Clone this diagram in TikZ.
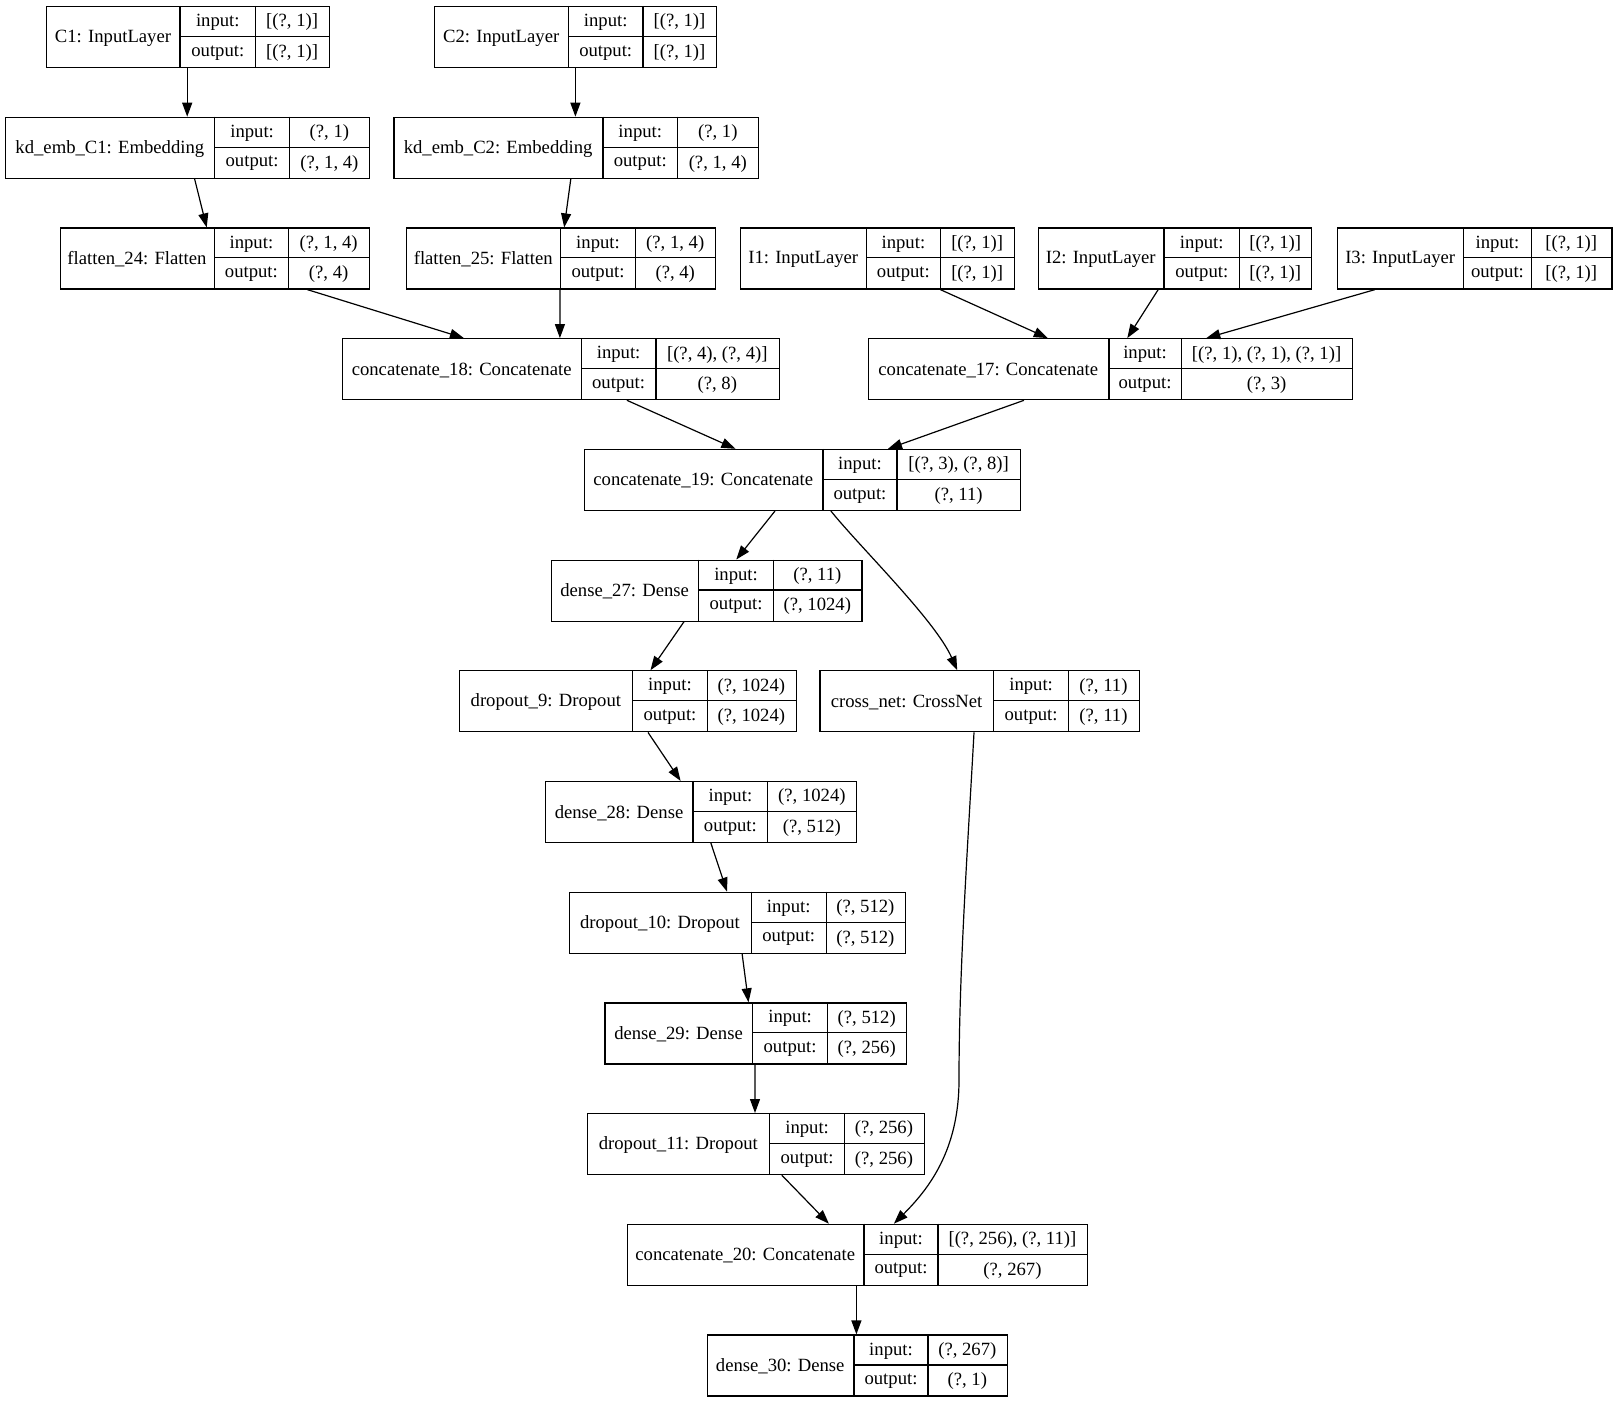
\documentclass[tikz,border=0pt]{standalone}
\usepackage{fontspec}
\setmainfont{Liberation Serif}
\usepackage{tikz}
\usetikzlibrary{arrows.meta, calc}

% one keras layer: id, left, top, col1, col2, right, name, input, output
\newcommand{\layer}[9]{%
    \node[box, minimum width={(#6-#2)*0.75pt}, anchor=north west] (#1) at (#2,#3) {};
    \draw[cellline] (#4,#3) -- (#4,#3+61);
    \draw[cellline] (#5,#3) -- (#5,#3+61);
    \draw[cellline] (#4,#3+30.5) -- (#6,#3+30.5);
    \node[txt] (#1-n) at ({(#2+#4)/2},#3+32) {#7};
    \node[txt] (#1-ki) at ({(#4+#5)/2},#3+16.5) {input:};
    \node[txt] (#1-ko) at ({(#4+#5)/2},#3+47) {output:};
    \node[txt] (#1-vi) at ({(#5+#6)/2},#3+16.5) {#8};
    \node[txt] (#1-vo) at ({(#5+#6)/2},#3+47) {#9};
}

\begin{document}
\begin{tikzpicture}[
    x=0.75pt, y=-0.75pt,
    box/.style={rectangle, draw=black, fill=white, line width=0.9pt, minimum height=45.75pt, inner sep=0pt},
    cellline/.style={draw=black, line width=0.9pt},
    txt/.style={font=\fontsize{14}{16}\selectfont, inner sep=0pt},
    rel/.style={-{Triangle[length=10.5pt, width=7.5pt]}, line width=0.9pt, draw=black},
]
    \useasboundingbox[fill=white] (0,0) rectangle (1617,1401);

    % categorical inputs
    \layer{c1}{46}{6}{180}{255.6}{328.7}{C1: InputLayer}{[(?, 1)]}{[(?, 1)]}
    \layer{c2}{434}{6}{568.4}{643}{716}{C2: InputLayer}{[(?, 1)]}{[(?, 1)]}
    \layer{emb1}{5.1}{116.7}{214.6}{289.6}{369.2}{kd\_emb\_C1: Embedding}{(?, 1)}{(?, 1, 4)}
    \layer{emb2}{393.4}{116.7}{602.9}{677.6}{758}{kd\_emb\_C2: Embedding}{(?, 1)}{(?, 1, 4)}
    \layer{fl24}{59.6}{227.4}{214.2}{288.6}{368.7}{flatten\_24: Flatten}{(?, 1, 4)}{(?, 4)}
    \layer{fl25}{406}{227.4}{560.5}{635.5}{715}{flatten\_25: Flatten}{(?, 1, 4)}{(?, 4)}

    % numeric inputs
    \layer{i1}{740}{227.4}{866.5}{940.3}{1014}{I1: InputLayer}{[(?, 1)]}{[(?, 1)]}
    \layer{i2}{1037.5}{227.4}{1164}{1239.5}{1311}{I2: InputLayer}{[(?, 1)]}{[(?, 1)]}
    \layer{i3}{1336.7}{227.4}{1463.7}{1531.2}{1611.3}{I3: InputLayer}{[(?, 1)]}{[(?, 1)]}

    % merge
    \layer{cat18}{342}{338.1}{581.3}{655.9}{778.7}{concatenate\_18: Concatenate}{[(?, 4), (?, 4)]}{(?, 8)}
    \layer{cat17}{867.6}{338.1}{1109}{1181.1}{1352.1}{concatenate\_17: Concatenate}{[(?, 1), (?, 1), (?, 1)]}{(?, 3)}
    \layer{cat19}{583.6}{448.8}{822.9}{897}{1020.2}{concatenate\_19: Concatenate}{[(?, 3), (?, 8)]}{(?, 11)}

    % deep part and cross part
    \layer{d27}{550.5}{559.5}{698.8}{773.3}{861.3}{dense\_27: Dense}{(?, 11)}{(?, 1024)}
    \layer{dr9}{459}{670.2}{632.7}{707.2}{795.6}{dropout\_9: Dropout}{(?, 1024)}{(?, 1024)}
    \layer{xnet}{819.3}{670.2}{993.8}{1068.4}{1138.5}{cross\_net: CrossNet}{(?, 11)}{(?, 11)}
    \layer{d28}{545.1}{780.9}{693}{767.8}{856}{dense\_28: Dense}{(?, 1024)}{(?, 512)}
    \layer{dr10}{568.6}{891.6}{751.3}{826.1}{904.7}{dropout\_10: Dropout}{(?, 512)}{(?, 512)}
    \layer{d29}{604.4}{1002.3}{752.7}{827.5}{906}{dense\_29: Dense}{(?, 512)}{(?, 256)}
    \layer{dr11}{587}{1113}{769.7}{844.5}{923.5}{dropout\_11: Dropout}{(?, 256)}{(?, 256)}

    % output
    \layer{cat20}{626.5}{1223.7}{864}{938}{1086.9}{concatenate\_20: Concatenate}{[(?, 256), (?, 11)]}{(?, 267)}
    \layer{d30}{706.5}{1334.4}{854}{928}{1006.6}{dense\_30: Dense}{(?, 267)}{(?, 1)}

    \coordinate (xbend) at (959,1080);

    % Edges
    \draw[rel] ($(c1.south west)+(141.2,0)$) -- ($(emb1.north west)+(182.1,0)$);
    \draw[rel] ($(c2.south west)+(141.4,0)$) -- ($(emb2.north west)+(182,0)$);
    \draw[rel] ($(emb1.south west)+(189.5,0)$) -- ($(fl24.north west)+(147.1,0)$);
    \draw[rel] ($(emb2.south west)+(177.4,0)$) -- ($(fl25.north west)+(158.2,0)$);
    \draw[rel] ($(fl24.south west)+(247.7,0)$) -- ($(cat18.north west)+(121.9,0)$);
    \draw[rel] ($(fl25.south west)+(154,0)$) -- ($(cat18.north west)+(217.9,0)$);
    \draw[rel] ($(i1.south west)+(200.3,0)$) -- ($(cat17.north west)+(180.2,0)$);
    \draw[rel] ($(i2.south west)+(120.7,0)$) -- ($(cat17.north west)+(259.7,0)$);
    \draw[rel] ($(i3.south west)+(38.3,0)$) -- ($(cat17.north west)+(338.7,0)$);
    \draw[rel] ($(cat18.south west)+(284.9,0)$) -- ($(cat19.north west)+(151.8,0)$);
    \draw[rel] ($(cat17.south west)+(156.4,0)$) -- ($(cat19.north west)+(304.4,0)$);
    \draw[rel] ($(cat19.south west)+(191.4,0)$) -- ($(d27.north west)+(185.8,0)$);
    \draw[rel] ($(cat19.south west)+(247.3,0)$) .. controls +(28,35) and +(-22,-50) .. ($(xnet.north west)+(137.9,0)$);
    \draw[rel] ($(d27.south west)+(133.5,0)$) -- ($(dr9.north west)+(191.5,0)$);
    \draw[rel] ($(dr9.south west)+(189,0)$) -- ($(d28.north west)+(135.5,0)$);
    \draw[rel] ($(d28.south west)+(165.8,0)$) -- ($(dr10.north west)+(158.4,0)$);
    \draw[rel] ($(dr10.south west)+(173.5,0)$) -- ($(d29.north west)+(144.1,0)$);
    \draw[rel] ($(d29.south west)+(150.6,0)$) -- ($(dr11.north west)+(168,0)$);
    \draw[rel] ($(dr11.south west)+(194.8,0)$) -- ($(cat20.north west)+(202.4,0)$);
    \draw[rel] ($(xnet.south west)+(154.7,0)$) .. controls +(-6,110) and +(0,-110) .. (xbend)
        .. controls +(0,70) and +(35,-35) .. ($(cat20.north west)+(267.4,0)$);
    \draw[rel] ($(cat20.south west)+(229.9,0)$) -- ($(d30.north west)+(149.9,0)$);
\end{tikzpicture}
\end{document}
